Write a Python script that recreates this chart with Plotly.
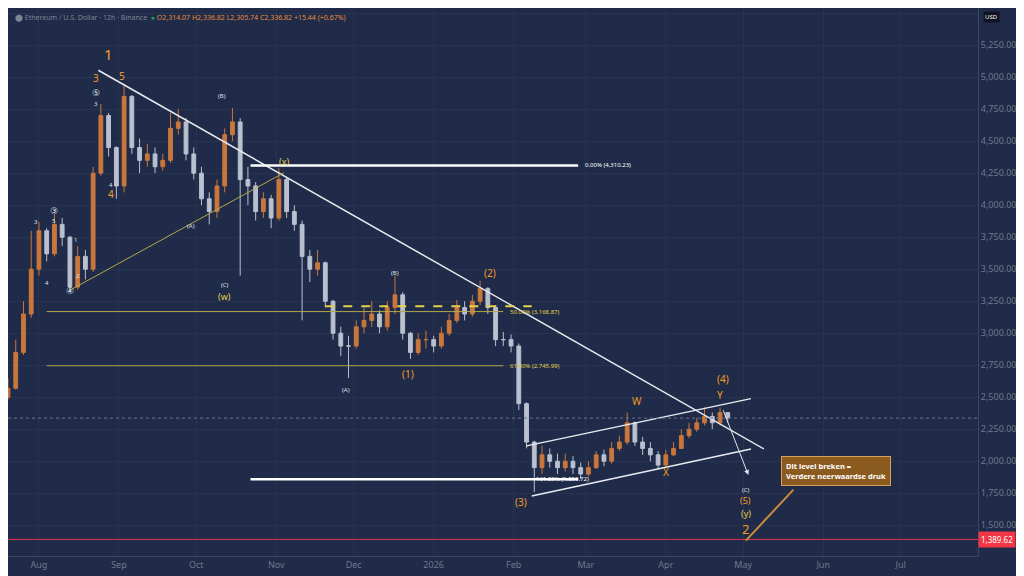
import plotly.graph_objects as go
import pandas as pd

start = pd.Timestamp("2025-07-20")
close = [2570,2850,3150,3500,3800,3620,3850,3750,3360,3600,3500,4250,4700,4450,4150,4850,4450,4350,4400,4300,
         4350,4600,4650,4400,4250,4050,3950,4150,4550,4650,4200,4150,3950,4050,3900,4200,3950,3850,3600,3500,
         3550,3250,3000,2900,2900,3050,3100,3150,3050,3200,3300,3000,2850,2950,2950,2900,3000,3100,3200,3150,
         3250,3350,3200,2950,2950,2900,2450,2150,1950,2050,2000,1950,2000,1950,1900,1950,2050,2000,2100,2150,
         2300,2150,2100,2050,1970,2050,2100,2200,2250,2300,2350,2300,2380,2337]
high = [2650,2950,3250,3800,3870,3820,3930,3900,3760,3680,3650,4300,4790,4720,4460,4950,4860,4520,4480,4450,
        4400,4720,4750,4680,4450,4300,4100,4200,4600,4760,4680,4300,4180,4100,4080,4290,4220,4000,3880,3650,
        3650,3560,3260,3050,2980,3100,3200,3250,3180,3250,3450,3320,3010,3000,3020,2980,3050,3150,3260,3250,
        3300,3410,3360,3220,3010,2990,2920,2460,2160,2120,2100,2060,2060,2040,1990,2000,2080,2090,2150,2200,
        2380,2310,2190,2150,2080,2090,2150,2250,2300,2340,2420,2380,2420,2350]
low = [2480,2560,2830,3120,3450,3560,3600,3680,3330,3340,3420,3480,4230,4380,4050,4100,4400,4250,4300,4250,
       4270,4330,4550,4350,4200,4000,3850,3900,4100,4500,3450,4000,3880,3900,3820,3880,3900,3800,3100,3400,
       3450,3200,2950,2820,2650,2880,3000,3050,3000,3020,3150,2950,2800,2830,2880,2850,2880,2980,3080,3100,
       3130,3220,3150,2900,2900,2850,2400,2100,1760,1900,1950,1900,1920,1900,1860,1880,1940,1960,1980,2080,
       2130,2120,2050,2000,1940,1960,2040,2100,2180,2230,2280,2250,2280,2300]
opens = [2500] + close[:-1]
dates = [start + pd.Timedelta(days=3 * i) for i in range(len(close))]

fib_levels = [4310.23, 3168.87, 2745.99, 1859.72]
fib_labels = ["0.00% (4,310.23)", "50.00% (3,168.87)", "61.80% (2,745.99)", "161.80% (1,859.72)"]
last_price = 2336.82
mark_price = 1389.62

BG = "#1f2b48"
ORANGE = "#f39c27"
YEL = "#e5d24a"

fig = go.Figure(go.Candlestick(
    x=dates, open=opens, high=high, low=low, close=close,
    increasing=dict(line=dict(color="#c9773c", width=1), fillcolor="#c9773c"),
    decreasing=dict(line=dict(color="#b9c0cf", width=1), fillcolor="#b9c0cf"),
    whiskerwidth=0, showlegend=False))

def seg(x0, y0, x1, y1, color, width=1.5, dash="solid"):
    fig.add_shape(type="line", x0=x0, y0=y0, x1=x1, y1=y1, xref="x", yref="y",
                  line=dict(color=color, width=width, dash=dash))

seg("2025-08-24", 5054, "2026-05-09", 2096, "#e8ebf0", 1.5)
seg("2026-02-06", 2120, "2026-05-04", 2489, "#e8ebf0", 1.5)
seg("2026-02-08", 1728, "2026-05-04", 2096, "#e8ebf0", 1.5)
seg("2025-08-13", 3336, "2025-11-04", 4254, "#b5a84a", 1)
seg("2025-10-22", fib_levels[0], "2026-02-26", fib_levels[0], "#ffffff", 2.5)
seg("2025-08-04", fib_levels[1], "2026-01-28", fib_levels[1], "#b5a84a", 1)
seg("2025-11-20", 3210, "2026-02-08", 3210, YEL, 2, "dash")
seg("2025-08-04", fib_levels[2], "2026-01-28", fib_levels[2], "#b5a84a", 1)
seg("2025-10-22", fib_levels[3], "2026-02-26", fib_levels[3], "#ffffff", 2.5)
fig.add_hline(y=last_price, line=dict(color="#6b7385", width=1, dash="dot"))
fig.add_hline(y=mark_price, line=dict(color="#e0384f", width=1))

fig.add_annotation(x="2026-05-03", y=1892, ax="2026-04-23", ay=2410, xref="x", yref="y",
                   axref="x", ayref="y", showarrow=True, arrowhead=2, arrowcolor="#dfe3ea",
                   arrowwidth=1, text="")

fib_x = ["2026-02-28", "2026-01-30", "2026-01-30", "2026-02-09"]
for lv, lb, xx in zip(fib_levels, fib_labels, fib_x):
    fig.add_annotation(x=xx, y=lv, text=lb, showarrow=False, xanchor="left",
                       font=dict(size=6, color="#ffffff" if lv in (4310.23, 1859.72) else YEL))

labels = [
    ("2025-08-28", 5180, "1", ORANGE, 15), ("2025-08-23", 4990, "3", ORANGE, 10), ("2025-09-02", 5010, "5", ORANGE, 10),
    ("2025-08-29", 4090, "4", ORANGE, 10), ("2026-05-02", 1470, "2", ORANGE, 13), ("2026-05-02", 1690, "(5)", ORANGE, 9),
    ("2026-05-02", 1590, "(y)", YEL, 9), ("2026-05-02", 1775, "(C)", "#dfe3ea", 6), ("2026-04-23", 2640, "(4)", ORANGE, 10),
    ("2026-04-22", 2520, "Y", ORANGE, 10), ("2026-03-21", 2470, "W", ORANGE, 10), ("2026-04-01", 1920, "X", ORANGE, 10),
    ("2026-02-04", 1680, "(3)", ORANGE, 10), ("2026-01-23", 3470, "(2)", ORANGE, 10), ("2025-12-22", 2680, "(1)", ORANGE, 10),
    ("2025-10-12", 3290, "(w)", YEL, 9), ("2025-11-04", 4340, "(x)", YEL, 9), ("2025-10-12", 3380, "(C)", "#dfe3ea", 6),
    ("2025-10-11", 4850, "(B)", "#dfe3ea", 6), ("2025-09-29", 3840, "(A)", "#dfe3ea", 6), ("2025-12-17", 3470, "(B)", "#dfe3ea", 6),
    ("2025-11-28", 2560, "(A)", "#dfe3ea", 6), ("2025-08-23", 4880, "⑤", "#dfe3ea", 9), ("2025-08-07", 3960, "③", "#dfe3ea", 9),
    ("2025-08-13", 3330, "④", "#dfe3ea", 9), ("2025-08-23", 4790, "3", "#dfe3ea", 6), ("2025-08-29", 4160, "4", "#dfe3ea", 6),
    ("2025-07-31", 3870, "3", "#dfe3ea", 6), ("2025-08-07", 3880, "5", "#dfe3ea", 6), ("2025-08-04", 3390, "4", "#dfe3ea", 6),
    ("2025-08-15", 3730, "1", "#dfe3ea", 6), ("2025-08-16", 3450, "2", "#dfe3ea", 6),
]
for x, y, t, c, s in labels:
    fig.add_annotation(x=x, y=y, text=t, showarrow=False, font=dict(color=c, size=s, family="Noto Sans"))

fig.add_annotation(x="2026-05-02", y=1380, ax="2026-05-21", ay=1790, axref="x", ayref="y",
                   xref="x", yref="y", showarrow=True, arrowhead=0, arrowcolor="#c98a3c", arrowwidth=2,
                   text="", standoff=0)
fig.add_annotation(xref="paper", yref="paper", x=0.91, y=1 - 478 / 548,
                   text="<b>Dit level breken =<br>Verdere neerwaardse druk</b>", showarrow=False,
                   bgcolor="#8b5a1f", bordercolor="#d9a05a", borderwidth=1, borderpad=4,
                   font=dict(color="#ffffff", size=7.5), align="left")

fig.add_annotation(xref="paper", yref="paper", x=0.005, y=0.995, xanchor="left", yanchor="top",
                   text="<span style='color:#7d8597'>⬤ Ethereum / U.S. Dollar · 12h · Binance</span>  "
                        "<span style='color:#1d9c6c'>●</span> <span style='color:#e88b3a'>O2,314.07 H2,336.82 L2,305.74 C2,336.82 +15.44 (+0.67%)</span>",
                   showarrow=False, font=dict(size=7))
fig.add_annotation(xref="paper", yref="paper", x=1.005, y=0.995, xanchor="left", yanchor="top",
                   text="USD", showarrow=False, bgcolor="#0f1420", font=dict(size=6, color="#ffffff"))
fig.add_annotation(xref="paper", yref="y", x=1.0, y=mark_price, xanchor="left",
                   text=f"{mark_price:,.2f}", showarrow=False, bgcolor="#f23645",
                   font=dict(size=8, color="#ffffff"), borderpad=2)

tickvals = pd.date_range("2025-08-01", "2026-08-01", freq="MS")
ticktext = [("2026" if d.year == 2026 and d.month == 1 else d.strftime("%b")) for d in tickvals]
yt = list(range(1500, 5501, 250))

fig.update_layout(
    width=1024, height=576, paper_bgcolor=BG, plot_bgcolor=BG,
    margin=dict(l=0, r=54, t=0, b=28),
    xaxis=dict(range=["2025-07-20", "2026-07-31"], rangeslider=dict(visible=False),
               tickvals=tickvals, ticktext=ticktext, showgrid=True, gridcolor="#27344f",
               tickfont=dict(color="#6f788b", size=9), showline=True, linecolor="#3a4560", zeroline=False),
    yaxis=dict(side="right", range=[1260, 5540], tickvals=yt, ticktext=[f"{v:,.2f}" for v in yt],
               showgrid=True, gridcolor="#27344f", tickfont=dict(color="#6f788b", size=9),
               showline=True, linecolor="#3a4560", zeroline=False),
    font=dict(family="Noto Sans"),
)
fig.write_html("out.html")
